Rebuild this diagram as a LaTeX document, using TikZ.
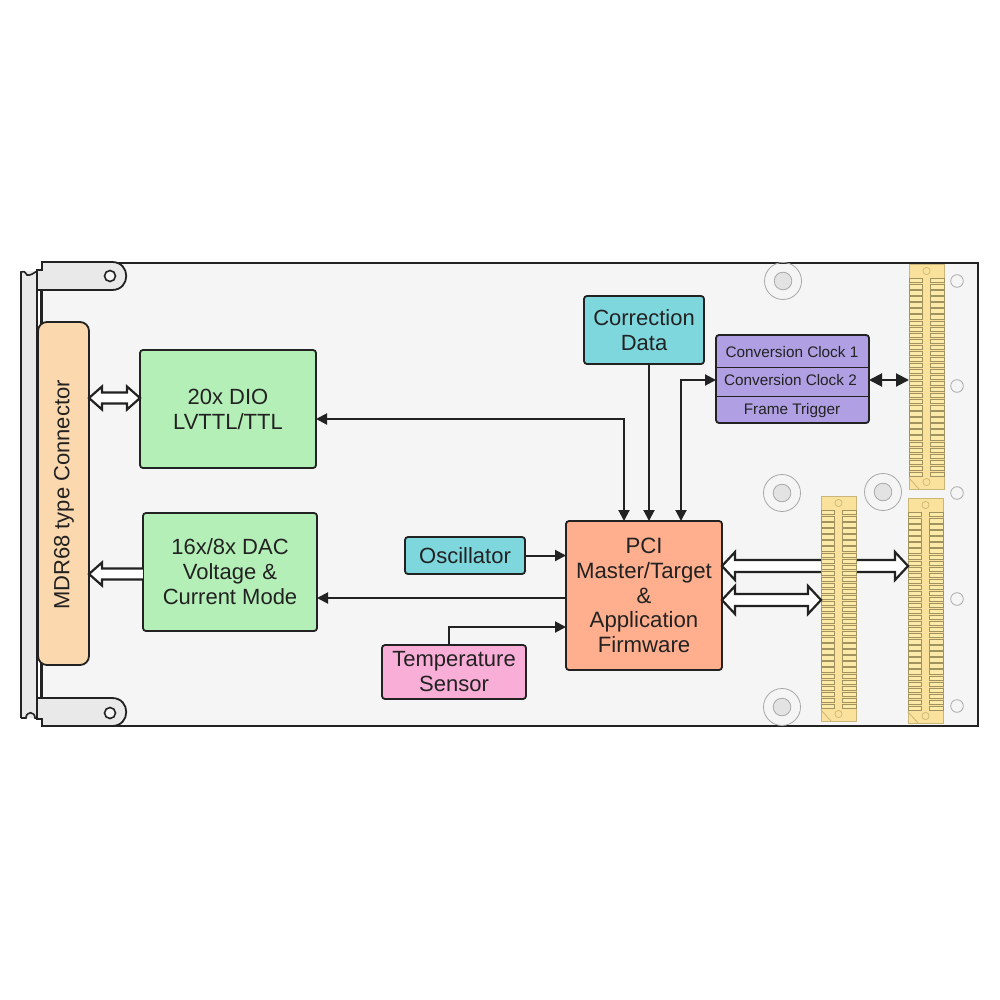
\documentclass[tikz,border=0pt]{standalone}
\usepackage{fontspec}
\setmainfont{Liberation Sans}
\usetikzlibrary{arrows.meta,calc}
\definecolor{boardc}{HTML}{F5F5F6}
\definecolor{ink}{HTML}{222222}
\definecolor{metal}{HTML}{E9E9EA}
\definecolor{peach}{HTML}{FCD8AE}
\definecolor{greenb}{HTML}{B5EFB8}
\definecolor{cyanb}{HTML}{7FD7DE}
\definecolor{pinkb}{HTML}{F8AED6}
\definecolor{salmon}{HTML}{FFAF8E}
\definecolor{violetb}{HTML}{B09FE3}
\definecolor{gold}{HTML}{FAE29C}
\definecolor{goldedge}{HTML}{C9B678}
\definecolor{tooth}{HTML}{FCEBA8}
\definecolor{toothedge}{HTML}{A09360}
\definecolor{holeedge}{HTML}{A8A8A8}
\definecolor{holefill}{HTML}{E3E3E3}
\tikzset{
  x=1pt,y=-1pt,
  block/.style={draw=ink,line width=1.8pt,rounded corners=3pt,inner sep=0pt,outer sep=0pt,
    align=center,text=ink,font=\fontsize{22}{25}\selectfont},
  smalltext/.style={inner sep=0pt,text=ink,font=\fontsize{15.3}{17}\selectfont},
  sig/.style={draw=ink,line width=2pt},
  tipb/.style={{Triangle[length=11pt,width=11pt]}-{Triangle[length=11pt,width=11pt]}},
  tipe/.style={-{Triangle[length=11pt,width=11pt]}},
  bus/.style={draw=ink,line width=2.2pt,fill=white,line join=miter,miter limit=4},
  hole/.style={draw=holeedge,line width=.8pt},
  slotbase/.style={draw=goldedge,line width=.8pt,fill=gold,inner sep=0pt,outer sep=0pt,minimum width=35pt,minimum height=225pt},
  toothst/.style={draw=toothedge,line width=.7pt,fill=tooth},
}
% double-headed hollow bus arrow: #1 left end, #2 right end, #3 head half-width, #4 shaft half-width
\newcommand\busboth[4]{%
  \draw[bus] (#1) -- ($(#1)+(13,-#3)$) -- ($(#1)+(13,-#4)$) -- ($(#2)+(-13,-#4)$) -- ($(#2)+(-13,-#3)$)
    -- (#2) -- ($(#2)+(-13,#3)$) -- ($(#2)+(-13,#4)$) -- ($(#1)+(13,#4)$) -- ($(#1)+(13,#3)$) -- cycle;}
% single-headed hollow bus arrow: head at #1 (left), tail at #2 (right)
\newcommand\busleft[4]{%
  \fill[white] ($(#1)+(13,-#4)$) rectangle ($(#2)+(0,#4)$);
  \fill[white] (#1) -- ($(#1)+(13,-#3)$) -- ($(#1)+(13,#3)$) -- cycle;
  \draw[bus,fill=none] ($(#2)+(0,-#4)$) -- ($(#1)+(13,-#4)$) -- ($(#1)+(13,-#3)$) -- (#1)
    -- ($(#1)+(13,#3)$) -- ($(#1)+(13,#4)$) -- ($(#2)+(0,#4)$);}
% board connector: #1 name, #2 x, #3 y
\newcommand\slotconn[3]{%
  \node[slotbase,anchor=north west] (#1) at (#2,#3) {};
  \begin{scope}[shift={(#2,#3)}]
    \foreach \k in {0,...,32}{
      \draw[toothst] (0,14.5+6.05*\k) rectangle (13.5,18.8+6.05*\k);
      \draw[toothst] (21.5,14.5+6.05*\k) rectangle (35,18.8+6.05*\k);
    }
    \draw[toothst,draw=goldedge,fill=gold] (17.5,7) circle[radius=3.6pt];
    \draw[toothst,draw=goldedge,fill=gold] (17.5,218) circle[radius=3.6pt];
    \draw[draw=goldedge,line width=.8pt] (0,214) -- (10,225);
  \end{scope}}
\begin{document}
\begin{tikzpicture}
\useasboundingbox[fill=white] (0,0) rectangle (1000,1000);
% board
\draw[draw=ink,line width=2pt,fill=boardc] (42,263) rectangle (978,726);
% rail
\fill[metal] (21,271) -- (37,271) -- (37,718) -- (21,718) -- cycle;
\draw[ink,line width=1.6pt] (37,272) -- (37,718);
\draw[ink,line width=1.6pt] (41,285) -- (41,704);
\draw[ink,line width=1.6pt] (21,718) -- (21,272) .. controls (23,270) and (25,272) .. (27,275) .. controls (30,276) and (34,273) .. (37,271);
\draw[ink,line width=1.6pt] (21,718) -- (26,718) .. controls (26,711) and (35,711) .. (35,718) -- (37,718);
% ejectors
\draw[ink,line width=1.8pt,fill=metal] (37,270) -- (42,270) -- (42,262) -- (112,262)
  .. controls (131,262) and (131,290) .. (112,290) -- (37,290) -- cycle;
\draw[ink,line width=1.8pt,fill=metal] (37,698) -- (112,698)
  .. controls (131,698) and (131,726) .. (112,726) -- (42,726) -- (42,719) -- (37,719) -- cycle;
\draw[ink,line width=1.6pt,fill=boardc] (110,276) circle[radius=5.5pt];
\draw[ink,line width=1.6pt,fill=boardc] (110,713) circle[radius=5.5pt];
% mounting holes
\foreach \hx/\hy in {783/281,782/493,883/492,782/707}{
  \draw[hole] (\hx,\hy) circle[radius=18.5pt];
  \draw[hole,fill=holefill] (\hx,\hy) circle[radius=8.8pt];
}
\foreach \hy in {281,386,493,599,706}{
  \draw[hole,fill=boardc] (957,\hy) circle[radius=6.3pt];
}
% connectors at the board edge
\slotconn{slottop}{909}{264}
\slotconn{slotright}{908}{498}
% blocks
\node[block,fill=peach,rounded corners=9pt,minimum width=51pt,minimum height=343pt] (conn) at (63.5,493.5) {};
\node[rotate=90,inner sep=0pt,text=ink,font=\fontsize{22}{25}\selectfont] (connlabel) at (64,495) {MDR68 type Connector};
\node[block,fill=greenb,minimum width=176pt,minimum height=118pt] (dio) at (228,409) {20x DIO\\LVTTL/TTL};
\node[block,fill=greenb,minimum width=174pt,minimum height=118pt] (dac) at (230,572) {16x/8x DAC\\Voltage \&\\Current Mode};
\node[block,fill=cyanb,minimum width=120pt,minimum height=68pt] (corr) at (644,330) {\raisebox{-1pt}{Correction}\\\raisebox{-1pt}{Data}};
\node[block,fill=cyanb,minimum width=120pt,minimum height=37pt] (osc) at (465,555.5) {Oscillator};
\node[block,fill=pinkb,minimum width=144pt,minimum height=54pt] (temp) at (454,672) {Temperature\\Sensor};
\node[block,fill=salmon,minimum width=156pt,minimum height=149pt,font=\fontsize{22.2}{24.8}\selectfont] (pci) at (644,595.5) {PCI\\Master/Target\\\&\\Application\\Firmware};
\node[block,fill=violetb,minimum width=153pt,minimum height=88pt] (conv) at (792.5,379) {};
\draw[ink,line width=.9pt] (conv.west |- 0,367) -- (conv.east |- 0,367);
\draw[ink,line width=.9pt] (conv.west |- 0,396) -- (conv.east |- 0,396);
\node[smalltext] (conv1) at (792,352) {Conversion Clock 1};
\node[smalltext] (conv2) at (790.5,380.5) {Conversion Clock 2};
\node[smalltext] (conv3) at (792,411) {Frame Trigger};
% hollow buses
\coordinate (b1a) at (conn.east |- 0,398);
\coordinate (b1b) at (dio.west |- 0,398);
\busboth{b1a}{b1b}{11.5}{5.5}
\coordinate (b2a) at (conn.east |- 0,574);
\coordinate (b2b) at (dac.west |- 0,574);
\busleft{b2a}{b2b}{11.5}{5.5}
\coordinate (b3a) at (pci.east |- 0,566);
\coordinate (b3b) at (slotright.west |- 0,566);
\busboth{b3a}{b3b}{14}{6}
% middle connector over the long bus
\slotconn{slotmid}{821}{496}
\coordinate (b4a) at (pci.east |- 0,600);
\coordinate (b4b) at (slotmid.west |- 0,600);
\busboth{b4a}{b4b}{14}{6}
% signals
\draw[sig,tipb] (dio.east |- 0,419) -- (624,419) -- (pci.north -| 624,0);
\draw[sig,tipe] (corr.south -| 649,0) -- (pci.north -| 649,0);
\draw[sig,tipb] (pci.north -| 681,0) -- (681,380) -- (conv.west |- 0,380);
\draw[sig,{Triangle[length=13pt,width=13pt]}-{Triangle[length=13pt,width=13pt]}] (conv.east |- 0,380) -- (slottop.west |- 0,380);
\draw[sig,tipe] (osc.east) -- (pci.west |- osc.east);
\draw[sig,tipe] (pci.west |- 0,598) -- (dac.east |- 0,598);
\draw[sig,tipe] (temp.north -| 449,0) -- (449,627) -- (pci.west |- 0,627);
\end{tikzpicture}
\end{document}
